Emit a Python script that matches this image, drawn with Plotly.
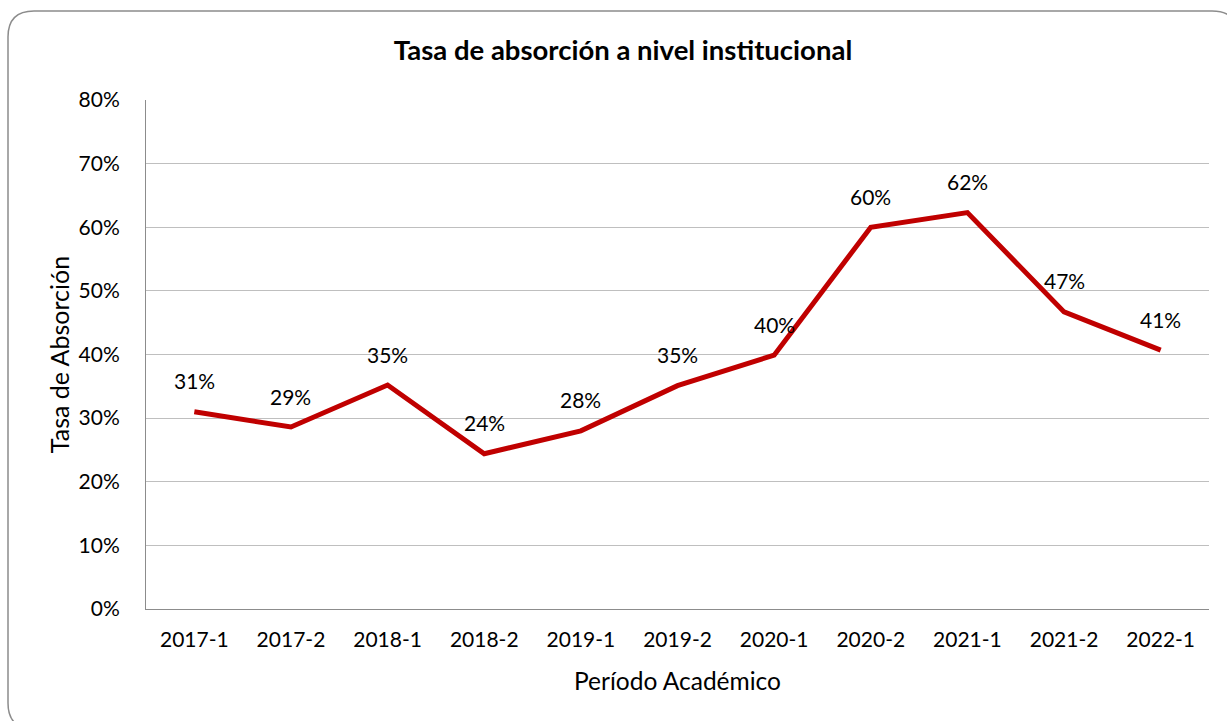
import plotly.graph_objects as go

periods = ["2017-1", "2017-2", "2018-1", "2018-2", "2019-1", "2019-2",
           "2020-1", "2020-2", "2021-1", "2021-2", "2022-1"]
rates = [0.310, 0.286, 0.352, 0.244, 0.280, 0.351, 0.399, 0.600, 0.623, 0.467, 0.407]
labels = [f"{round(v * 100)}%" for v in rates]

W, H = 1227, 721
L, R, T, B = 146, 1209, 100, 609
FONT = "Lato"

fig = go.Figure()
fig.add_trace(go.Scatter(
    x=periods, y=rates, mode="lines",
    line=dict(color="#C00000", width=5),
    hoverinfo="skip", showlegend=False,
))

for p, v, t in zip(periods, rates, labels):
    fig.add_annotation(x=p, y=v, text=t, showarrow=False, yshift=31,
                       font=dict(family=FONT, size=21, color="#000000"))

def px(x):
    return (x - L) / (R - L)

def py(y):
    return (B - y) / (B - T)

x0, y0, x1, y1, r = 8, 11, 1238, 729, 26
path = (f"M {px(x0 + r)},{py(y0)} L {px(x1 - r)},{py(y0)} "
        f"Q {px(x1)},{py(y0)} {px(x1)},{py(y0 + r)} "
        f"L {px(x1)},{py(y1 - r)} Q {px(x1)},{py(y1)} {px(x1 - r)},{py(y1)} "
        f"L {px(x0 + r)},{py(y1)} Q {px(x0)},{py(y1)} {px(x0)},{py(y1 - r)} "
        f"L {px(x0)},{py(y0 + r)} Q {px(x0)},{py(y0)} {px(x0 + r)},{py(y0)} Z")
fig.add_shape(type="path", path=path, xref="paper", yref="paper",
              line=dict(color="#8C8C8C", width=1.5), layer="below")

fig.update_layout(
    width=W, height=H,
    margin=dict(l=L, r=W - R, t=T, b=H - B),
    paper_bgcolor="white", plot_bgcolor="white",
    font=dict(family=FONT, size=21, color="#000000"),
    title=dict(text="<b>Tasa de absorción a nivel institucional</b>",
               x=623 / W, xref="container", xanchor="center",
               y=1 - 50 / H, yref="container", yanchor="middle",
               font=dict(family=FONT, size=27.5, color="#000000")),
)
fig.update_xaxes(
    type="category", range=[-0.5, len(periods) - 0.5],
    showgrid=False, showline=True, linecolor="#8C8C8C", linewidth=1,
    ticks="", ticklabelstandoff=12, tickfont=dict(size=21),
    title=dict(text="Período Académico", font=dict(size=24.5), standoff=22),
)
fig.update_yaxes(
    range=[0, 0.8], dtick=0.1, tickformat=".0%",
    showgrid=True, gridcolor="#BFBFBF", gridwidth=1,
    showline=True, linecolor="#8C8C8C", linewidth=1,
    ticks="", ticklabelstandoff=21, zeroline=False, tickfont=dict(size=21),
    title=dict(text="Tasa de Absorción", font=dict(size=25), standoff=1),
)

fig.write_html("out.html", config={"displayModeBar": False},
               post_script="document.body.style.margin='0';")
